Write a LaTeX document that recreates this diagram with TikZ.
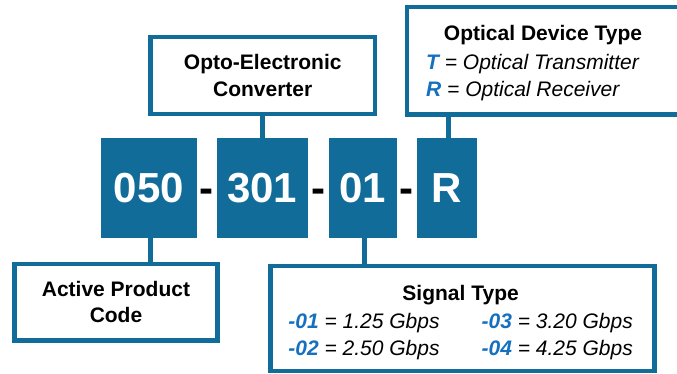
\documentclass[tikz,border=0pt]{standalone}
\usepackage{fontspec}
\setmainfont{Liberation Sans}
\definecolor{cBlock}{HTML}{116C9A}
\definecolor{cCode}{HTML}{1570BF}
\usetikzlibrary{calc}
\newcommand{\code}[1]{\textcolor{cCode}{\bfseries\itshape #1}}

\begin{document}
\begin{tikzpicture}[x=1pt,y=-1pt,
      block/.style={fill=cBlock,text=white,inner sep=0pt,minimum height=99pt,
        font=\fontsize{42}{50}\selectfont\bfseries},
      hyph/.style={anchor=base,inner sep=0pt,font=\fontsize{42}{50}\selectfont\bfseries},
      tagbox/.style={draw=cBlock,line width=4.5pt,fill=white,inner sep=0pt,
        align=center,font=\fontsize{21}{26.5}\selectfont\bfseries},
      link/.style={draw=cBlock,line width=5pt},
      keytext/.style={inner sep=0pt,font=\fontsize{21}{26.7}\selectfont\itshape}]
    \useasboundingbox (0,0) rectangle (677,374);
    \fill[white] (0,0) rectangle (677,374);
    % part number blocks
    \foreach \n/\x/\w in {050/149/96, 301/262.3/91.3, 01/362.7/68, R/446.7/60}
      \node[block,minimum width=\w] (b\n) at (\x,188) {\n};
    \foreach \a/\b/\i in {050/301/1, 301/01/2, 01/R/3}
      \node[hyph] (h\i) at ($(b\a.base east)!0.5!(b\b.base west)$) {-};
    % description boxes
    \node[tagbox,minimum width=224.5pt,minimum height=76.6pt] (opto) at (262.75,75.5)
      {Opto-Electronic\\Converter};
    \node[tagbox,minimum width=203.4pt,minimum height=76.5pt] (apc) at (116,302.2)
      {Active Product\\Code};
    \node[tagbox,minimum width=272pt,minimum height=107.3pt] (odt) at (543.2,60.85) {};
    \node[tagbox,minimum width=384pt,minimum height=105pt] (sig) at (462.5,318.5) {};
    % box texts
    \node[tagbox,draw=none,fill=none,anchor=base] (odtTitle) at (543,40.7) {Optical Device Type};
    \node[keytext,anchor=base west] (odtT) at (426,70) {\code{T} = Optical Transmitter};
    \node[keytext,anchor=base west] (odtR) at (426,96.7) {\code{R} = Optical Receiver};
    \node[keytext] (sigText) at (460.6,322.2) {%
      \begin{tabular}{@{}l@{\hspace{42pt}}l@{}}
        \multicolumn{2}{c}{\upshape\bfseries Signal Type}\\[1.6pt]
        \code{-01} = 1.25 Gbps & \code{-03} = 3.20 Gbps\\
        \code{-02} = 2.50 Gbps & \code{-04} = 4.25 Gbps
      \end{tabular}};
    % connectors
    \draw[link] ([xshift=1pt]b050.south) -- ([xshift=1pt]b050.south |- apc.north);
    \draw[link] (b301.north) -- (b301.north |- opto.south);
    \draw[link] ([xshift=1.8pt]b01.south) -- ([xshift=1.8pt]b01.south |- sig.north);
    \draw[link] ([xshift=1.3pt]bR.north) -- ([xshift=1.3pt]bR.north |- odt.south);
  \end{tikzpicture}
\end{document}
